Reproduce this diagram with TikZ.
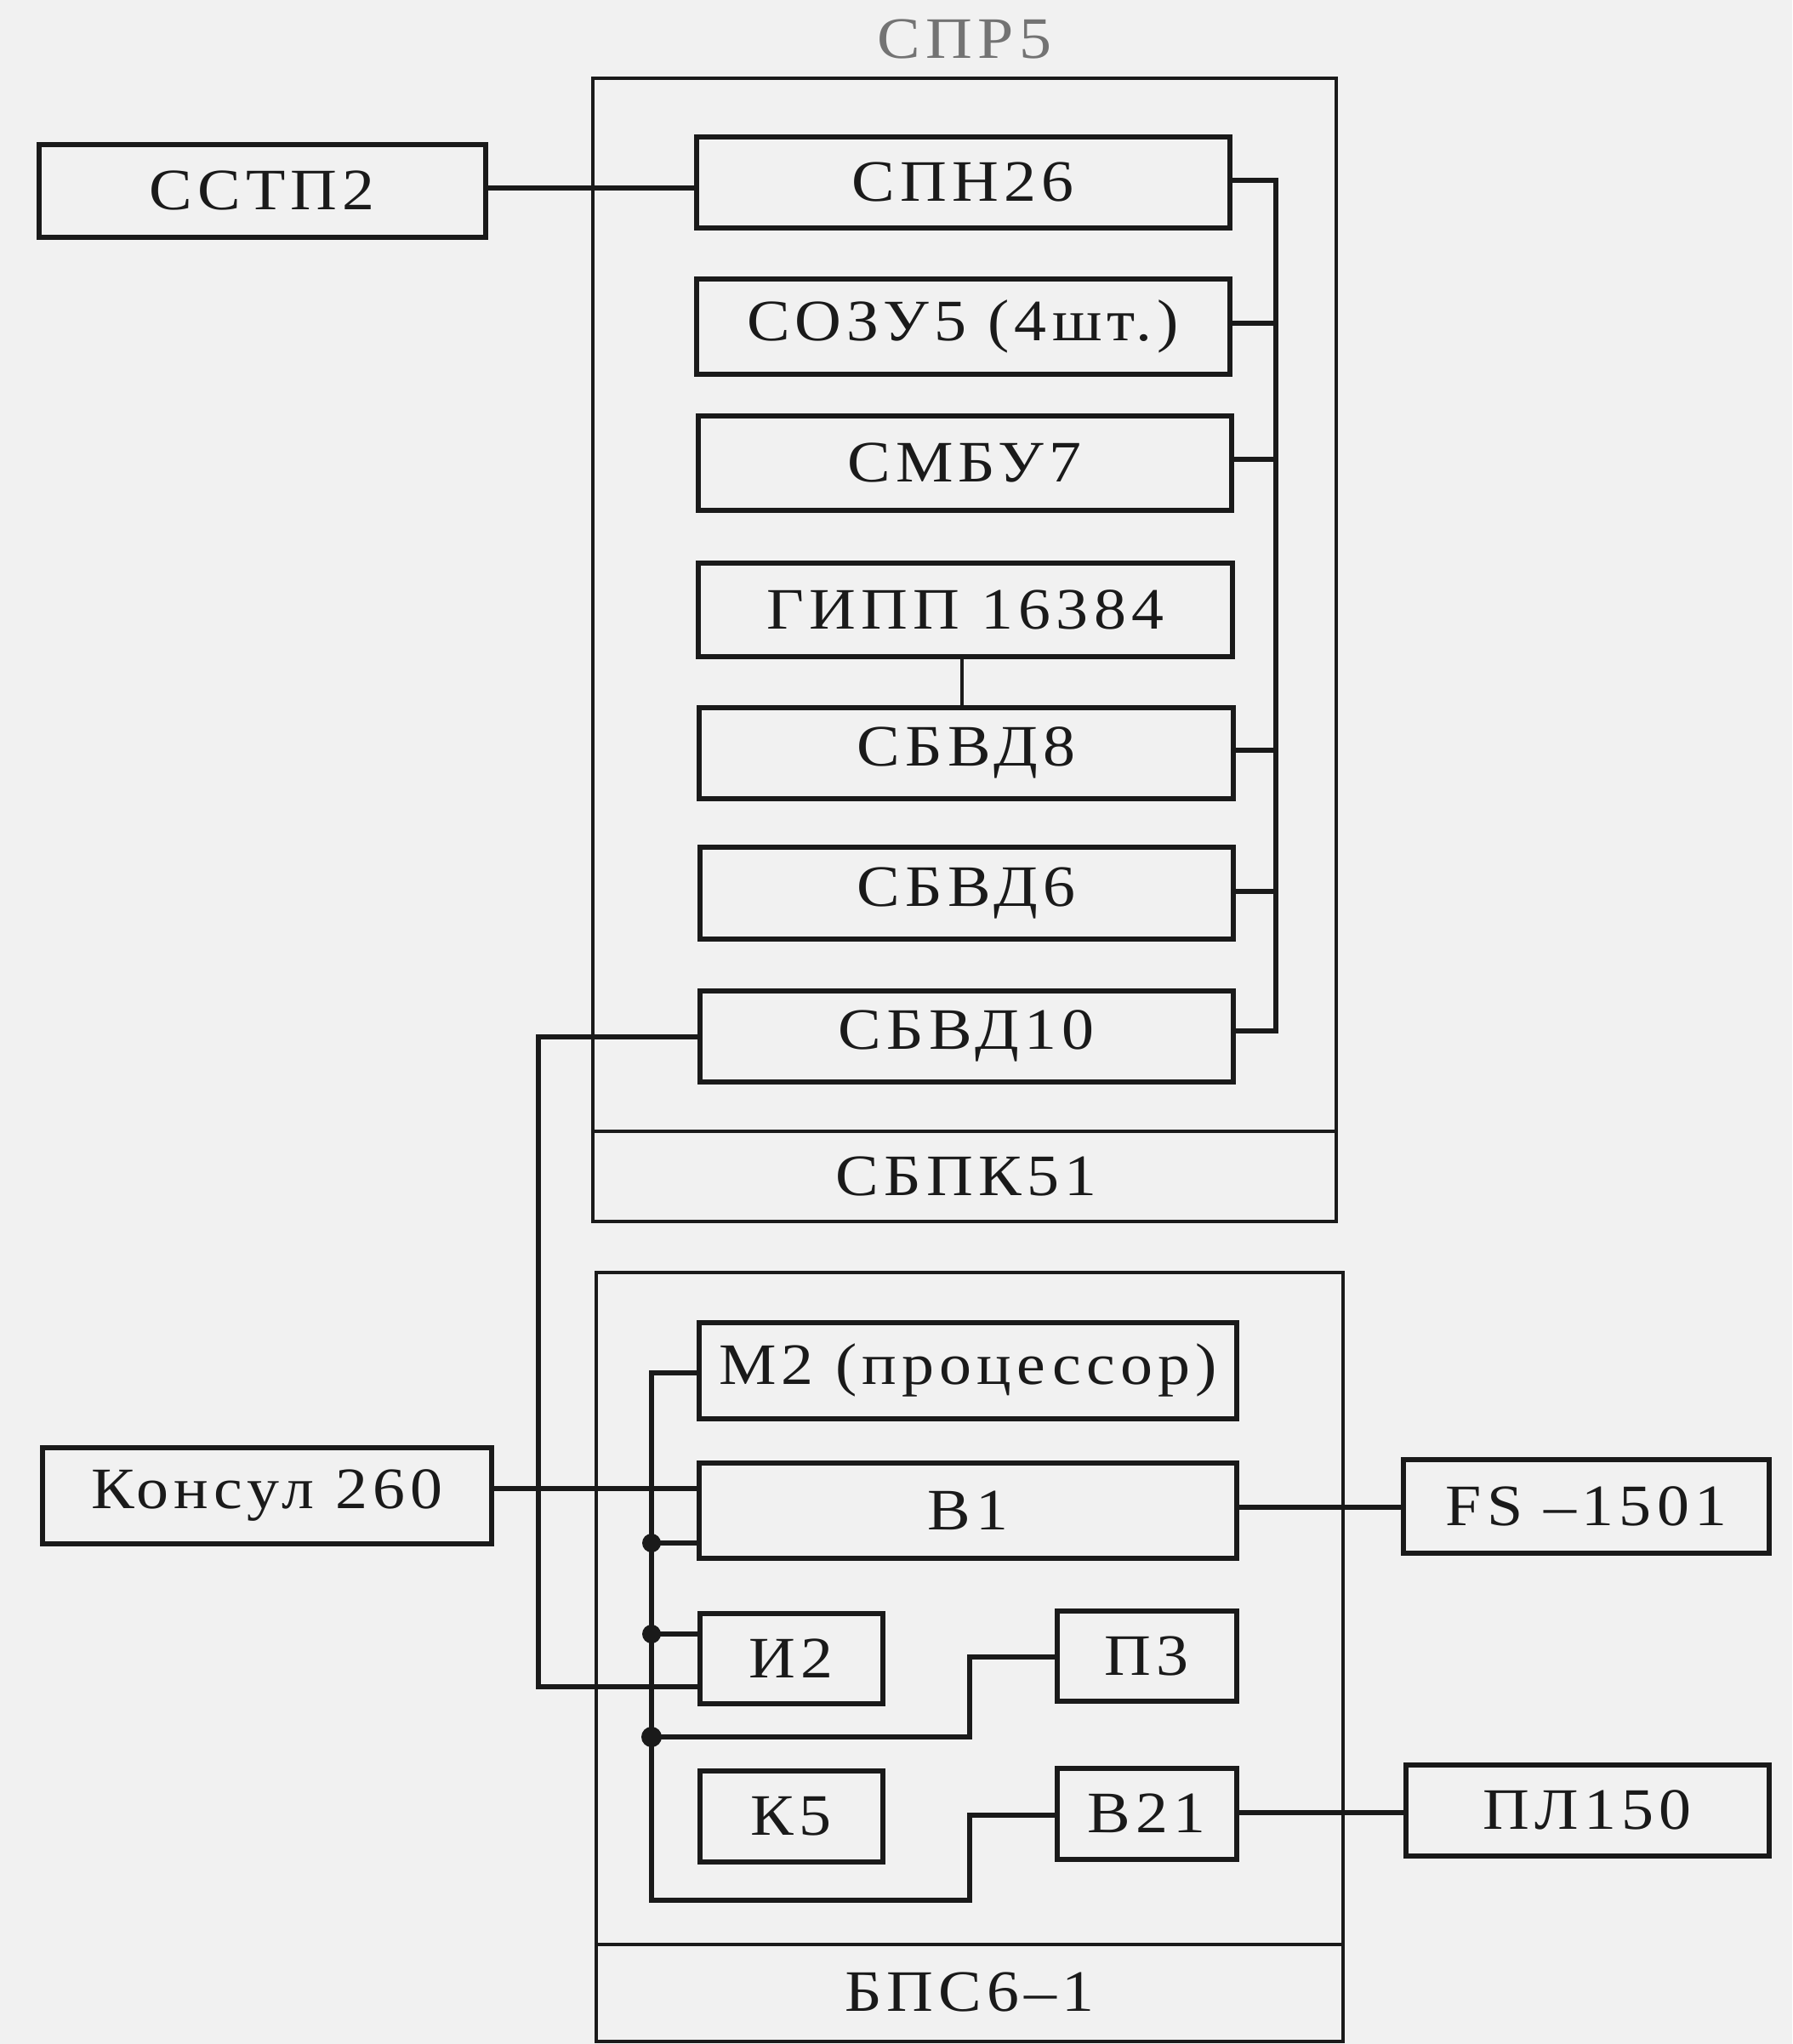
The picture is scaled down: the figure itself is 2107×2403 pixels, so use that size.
\documentclass[tikz,border=0pt]{standalone}
\usepackage{fontspec}
\setmainfont{Liberation Serif}[LetterSpace=9,FakeStretch=1.1]
\usetikzlibrary{calc}
\definecolor{paper}{HTML}{F1F1F1}
\definecolor{ink}{HTML}{1A1A1A}
\newcommand{\lbl}{\fontsize{69}{80}\selectfont}
\begin{document}
\begin{tikzpicture}[x=1pt,y=-1pt,
  box/.style={draw=ink, line width=6pt, inner sep=0pt, font=\lbl, text=ink},
  outerbox/.style={draw=ink, line width=4.5pt, inner sep=0pt},
  wire/.style={draw=ink, line width=6pt, line join=miter},
  thinwire/.style={draw=ink, line width=3.5pt},
  dotj/.style={fill=ink}]
\useasboundingbox (0,0) rectangle (2107,2403);
\fill[paper] (0,0) rectangle (2107,2403);

% ---------- СПР5 rack ----------
\node[font=\lbl, text=black!55] (sprtitle) at (1134,46) {СПР5};
\node[outerbox, minimum width=874, minimum height=1344] (spr5) at (1134,764) {};
\draw[outerbox] (spr5.west |- 0,1330) -- (spr5.east |- 0,1330);
\node[font=\lbl, text=ink] (sbpk) at (1136,1383) {СБПК51};

\node[box, minimum width=627, minimum height=107] (spn26) at (1132,214) {СПН26};
\node[box, minimum width=627, minimum height=112] (sozu) at (1132,384) {СОЗУ5 (4шт.)};
\node[box, minimum width=627, minimum height=111] (smbu) at (1134,544) {СМБУ7};
\node[box, minimum width=628, minimum height=110] (gipp) at (1135,717) {ГИПП 16384};
\node[box, minimum width=628, minimum height=107] (sbvd8) at (1136,885) {СБВД8};
\node[box, minimum width=627, minimum height=108] (sbvd6) at (1136,1050) {СБВД6};
\node[box, minimum width=627, minimum height=107] (sbvd10) at (1136,1218) {СБВД10};

\node[box, minimum width=525, minimum height=109] (sstp) at (308,224) {ССТП2};

% right-hand bus of СПР5
\coordinate (rbus) at (1500,0);
\draw[wire] (spn26.east |- 0,212) -- (rbus |- 0,212) -- (rbus |- 0,1212) -- (sbvd10.east |- 0,1212);
\draw[wire] (sozu.east |- 0,380) -- (rbus |- 0,380);
\draw[wire] (smbu.east |- 0,540) -- (rbus |- 0,540);
\draw[wire] (sbvd8.east |- 0,882) -- (rbus |- 0,882);
\draw[wire] (sbvd6.east |- 0,1048) -- (rbus |- 0,1048);
\draw[thinwire] (gipp.south -| 1131,0) -- (sbvd8.north -| 1131,0);

\draw[wire] (sstp.east |- 0,221) -- (spn26.west |- 0,221);

% ---------- БПС6-1 rack ----------
\node[outerbox, minimum width=878, minimum height=904] (bps) at (1140,1948) {};
\draw[outerbox] (bps.west |- 0,2286) -- (bps.east |- 0,2286);
\node[font=\lbl, text=ink] (bpslbl) at (1140,2342) {БПС6–1};

\node[box, minimum width=632, minimum height=113] (m2) at (1138,1611) {М2 (процессор)};
\node[box, minimum width=632, minimum height=112] (b1) at (1138,1776) {В1};
\node[box, minimum width=215, minimum height=106] (i2) at (930,1950) {И2};
\node[box, minimum width=211, minimum height=106] (p3) at (1348,1947) {П3};
\node[box, minimum width=215, minimum height=107] (k5) at (930,2135) {К5};
\node[box, minimum width=211, minimum height=107] (b21) at (1348,2132) {В21};

\node[box, minimum width=528, minimum height=113] (konsul) at (314,1758) {Консул 260};
\node[box, minimum width=430, minimum height=110] (fs) at (1865,1771) {FS –1501};
\node[box, minimum width=427, minimum height=107] (pl) at (1866,2128) {ПЛ150};

% external links
\draw[wire] (konsul.east |- 0,1750) -- (b1.west |- 0,1750);
\draw[wire] (b1.east |- 0,1772) -- (fs.west |- 0,1772);
\draw[wire] (b21.east |- 0,2131) -- (pl.west |- 0,2131);

% long line СБВД10 -> И2
\coordinate (lbus) at (633,0);
\draw[wire] (sbvd10.west |- 0,1219) -- (lbus |- 0,1219) -- (lbus |- 0,1983) -- (i2.west |- 0,1983);

% internal bus of БПС6-1
\coordinate (ibus) at (766,0);
\draw[wire] (m2.west |- 0,1614) -- (ibus |- 0,1614) -- (ibus |- 0,2234) -- (1140,2234) -- (1140,2134) -- (b21.west |- 0,2134);
\draw[wire] (ibus |- 0,1814) -- (b1.west |- 0,1814);
\draw[wire] (ibus |- 0,1921) -- (i2.west |- 0,1921);
\draw[wire] (ibus |- 0,2042) -- (1140,2042) -- (1140,1948) -- (p3.west |- 0,1948);
\fill[dotj] (ibus |- 0,1814) circle (11);
\fill[dotj] (ibus |- 0,1921) circle (11);
\fill[dotj] (ibus |- 0,2042) circle (12);
\end{tikzpicture}
\end{document}
